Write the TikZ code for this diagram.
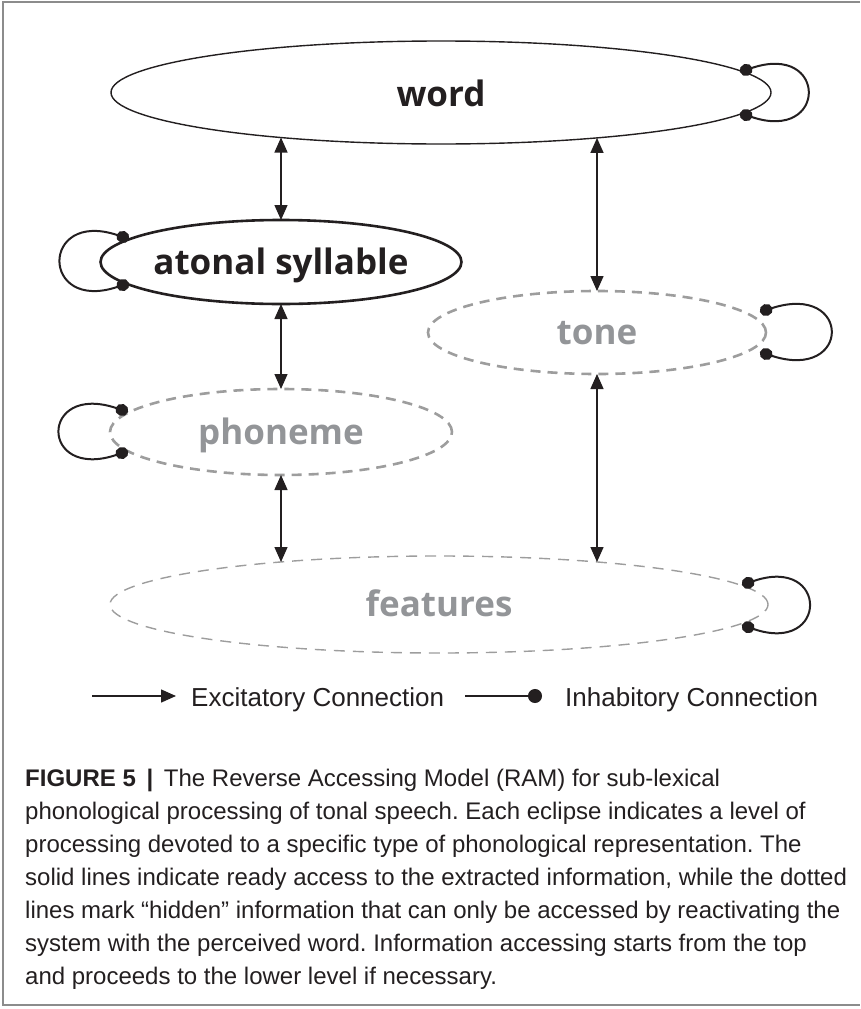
\documentclass[tikz,border=0pt]{standalone}
\usepackage{fontspec}
\setmainfont{Liberation Sans}
\newfontfamily\labfont{Open Sans}
\usetikzlibrary{arrows.meta,calc,shapes.geometric}
\definecolor{ink}{HTML}{231F20}
\definecolor{greytext}{HTML}{939598}
\definecolor{dashgrey}{HTML}{9D9D9D}
\definecolor{framegrey}{HTML}{8C8C8C}
\frenchspacing
\begin{document}
\begin{tikzpicture}[x=1pt,y=-1pt,
  lvl/.style={ellipse, inner sep=0pt, outer sep=0pt, text height=24pt, text depth=0pt,
    font=\labfont\bfseries\fontsize{35}{40}\selectfont},
  solidlvl/.style={lvl, draw=ink, text=ink},
  hidlvl/.style={lvl, draw=dashgrey, text=greytext, dash pattern=on 10pt off 7pt},
  exc/.style={draw=ink, line width=1.4pt,
    {Triangle[length=15pt,width=13pt]}-{Triangle[length=15pt,width=13pt]}},
  inh/.style={draw=ink, line width=2pt,
    {Circle[length=13pt,width=12pt]}-{Circle[length=13pt,width=12pt]}},
  legtext/.style={anchor=base west, inner sep=0pt, text=ink, font=\fontsize{26}{30}\selectfont},
]
\useasboundingbox (0,0) rectangle (860,1009);
\draw[framegrey, line width=1.5pt] (860,2) -- (3,2) -- (3,1005) -- (860,1005);

% levels
\node[solidlvl, line width=1.4pt, minimum width=660pt, minimum height=103pt] (word) at (441,92.5) {\raisebox{-2pt}{word}};
\node[solidlvl, line width=2.6pt, minimum width=342pt, minimum height=84pt] (atonal) at (281,262) {atonal syllable};
\node[hidlvl, line width=2.6pt, minimum width=338pt, minimum height=83pt] (tone) at (597,332.5) {tone};
\node[hidlvl, line width=2.6pt, minimum width=342pt, minimum height=86pt] (phoneme) at (281,432) {phoneme};
\node[hidlvl, line width=1.4pt, dash pattern=on 11pt off 8pt, minimum width=658pt, minimum height=97pt] (features) at (439,604.5) {features};

% excitatory connections
\draw[exc] ($(word.center)+(-160,45)$) -- (atonal.north);
\draw[exc] ($(word.center)+(156,45.4)$) -- (tone.north);
\draw[exc] (atonal.south) -- (phoneme.north);
\draw[exc] (phoneme.south) -- ($(features.center)+(-158,-42.5)$);
\draw[exc] (tone.south) -- ($(features.center)+(158,-42.5)$);

% inhibitory self loops
\draw[inh] ($(word.center)+(299,-20.5)$) .. controls +(88,-30) and +(88,30) .. ($(word.center)+(299,20.5)$);
\draw[inh] ($(atonal.center)+(-152,-23)$) .. controls +(-89,-30) and +(-89,30) .. ($(atonal.center)+(-152,21)$);
\draw[inh] ($(tone.center)+(163,-20.5)$) .. controls +(92,-30) and +(92,30) .. ($(tone.center)+(163,19.5)$);
\draw[inh] ($(phoneme.center)+(-153,-20)$) .. controls +(-89,-30) and +(-89,30) .. ($(phoneme.center)+(-153,19)$);
\draw[inh] ($(features.center)+(303,-19.5)$) .. controls +(87,-30) and +(87,30) .. ($(features.center)+(303,20.5)$);

% legend
\coordinate (ea) at (92,696);
\coordinate (eb) at (176,696);
\draw[draw=ink, line width=1.5pt, -{Triangle[length=15pt,width=13pt]}] (ea) -- (eb);
\node[legtext] (exclab) at (191,706) {Excitatory Connection};
\coordinate (ia) at (465,696);
\coordinate (ib) at (542,696);
\draw[draw=ink, line width=1.5pt, -{Circle[length=14pt,width=14pt]}] (ia) -- (ib);
\node[legtext] (inhlab) at (565,706) {Inhabitory Connection};

% caption
\node[anchor=north west, inner sep=0pt, align=left, text=ink, font=\fontsize{24}{33}\selectfont] (cap) at (25,769)
{\textbf{FIGURE 5 \,|\,} The Reverse Accessing Model (RAM) for sub-lexical\\
phonological processing of tonal speech. Each eclipse indicates a level of\\
processing devoted to a specific type of phonological representation. The\\
solid lines indicate ready access to the extracted information, while the dotted\\
lines mark “hidden” information that can only be accessed by reactivating the\\
system with the perceived word. Information accessing starts from the top\\
and proceeds to the lower level if necessary.};
\end{tikzpicture}
\end{document}
